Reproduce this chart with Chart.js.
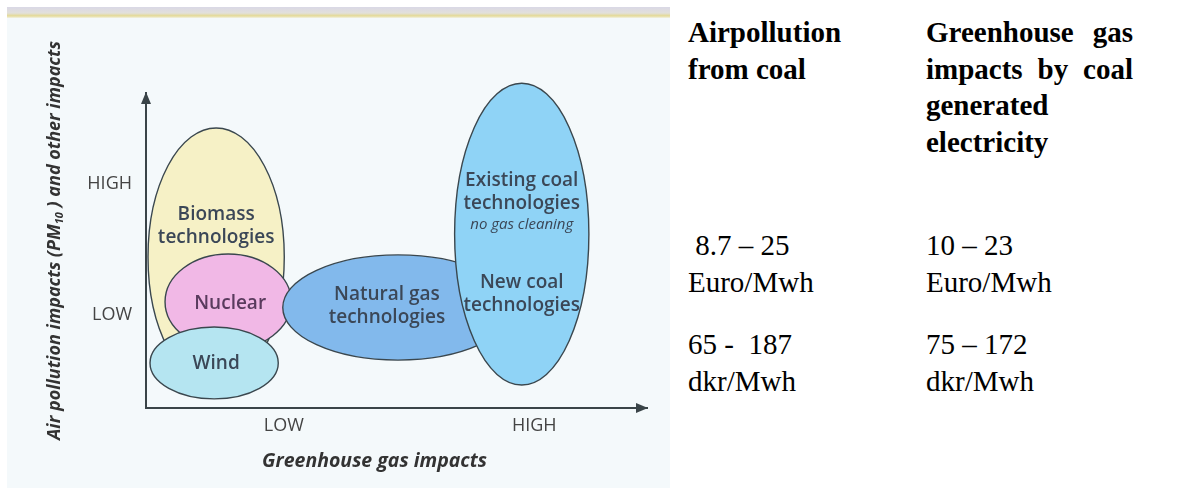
<!DOCTYPE html>
<html>
<head>
<meta charset="utf-8">
<script src="https://cdn.jsdelivr.net/npm/chart.js@4.4.1/dist/chart.umd.min.js"></script>
<style>
  body { margin: 0; background: #fff; width: 1188px; height: 493px; position: relative; overflow: hidden;
         font-family: "Liberation Serif", "Times New Roman", serif; }
  #panel { position: absolute; left: 7px; top: 7px; width: 663px; height: 481px; background: #f4f9fb; }
  #strip { position: absolute; left: 0; top: 0; width: 663px; height: 11px;
           background: linear-gradient(#d9d8e6, #e2e0da 55%, #e4da96 80%, #f2f2e4); }
  #wrap { position: absolute; left: 0; top: 0; width: 663px; height: 480px; }
  .col { position: absolute; font-size: 29px; line-height: 36.5px; color: #000; }
  .head { font-weight: bold; }
</style>
</head>
<body>
<div id="panel">
  <div id="strip"></div>
  <div id="wrap"><canvas id="impactChart"></canvas></div>
</div>

<div class="col head" style="left:688px; top:14px; width:215px;">Airpollution<br>from coal</div>
<div class="col head" style="left:926px; top:14px; width:207px; text-align:justify;">Greenhouse gas impacts by coal generated electricity</div>
<div class="col" style="left:688px; top:227px;">&nbsp;8.7 – 25<br>Euro/Mwh</div>
<div class="col" style="left:926px; top:227px;">10 – 23<br>Euro/Mwh</div>
<div class="col" style="left:688px; top:326px;">65 - &nbsp;187<br>dkr/Mwh</div>
<div class="col" style="left:926px; top:326px;">75 – 172<br>dkr/Mwh</div>

<script>
// technology regions: centre and half-extent on both axes (0-100 scale)
const technologies = ['Biomass', 'Nuclear', 'Wind', 'Natural gas', 'Coal'];
const ghgCentre = [14.0, 16.4, 13.6, 50.3, 75.0];
const airCentre = [47.9, 33.7, 14.3, 31.9, 55.2];
const ghgSpread = [13.6, 12.6, 12.8, 23.0, 13.4];
const airSpread = [41.0, 15.2, 11.4, 16.7, 47.9];
const fillColours = ['#f6f1c6', '#f1b8e6', '#b5e5f1', '#82b9ec', '#8fd3f6'];

// text written inside the regions
const labelLines = [['Biomass', 'technologies'], ['Nuclear'], ['Wind'], ['Natural gas', 'technologies'],
                    ['Existing coal', 'technologies'], ['no gas cleaning'], ['New coal', 'technologies']];
const labelGhg = [14.0, 16.8, 14.0, 48.1, 75.0, 75.0, 75.0];
const labelAir = [57.8, 33.3, 14.0, 32.4, 68.7, 58.1, 36.3];

// axis ticks
const levelNames = ['LOW', 'HIGH'];
const ghgTicks = [27.5, 77.5];
const airTicks = [29.5, 71];

const FONT = '"Open Sans", "DejaVu Sans", sans-serif';

const regionPlugin = {
    id: 'regions',
    beforeDatasetsDraw(chart) {
        const { ctx, scales: { x, y } } = chart;
        const pts = chart.data.datasets[0].data;
        ctx.save();
        pts.forEach((p, i) => {
            const cx = x.getPixelForValue(p.x);
            const cy = y.getPixelForValue(p.y);
            const rx = x.getPixelForValue(p.x + ghgSpread[i]) - cx;
            const ry = cy - y.getPixelForValue(p.y + airSpread[i]);
            ctx.beginPath();
            ctx.ellipse(cx, cy, rx, ry, 0, 0, Math.PI * 2);
            ctx.fillStyle = fillColours[i];
            ctx.fill();
            ctx.lineWidth = 1.4;
            ctx.strokeStyle = '#3a474e';
            ctx.stroke();
        });

        ctx.textAlign = 'center';
        ctx.textBaseline = 'middle';
        labelLines.forEach((lines, i) => {
            const lx = x.getPixelForValue(labelGhg[i]);
            const ly = y.getPixelForValue(labelAir[i]);
            const italic = lines[0] === 'no gas cleaning';
            ctx.font = italic ? 'italic 15px ' + FONT : '600 19px ' + FONT;
            ctx.fillStyle = i === 1 ? '#5a3b5e' : '#3b4757';
            const step = 23;
            lines.forEach((t, k) => {
                ctx.fillText(t, lx, ly + (k - (lines.length - 1) / 2) * step);
            });
        });
        ctx.restore();
    },
    afterDraw(chart) {
        const { ctx, chartArea: { left, top, right, bottom } } = chart;
        ctx.save();
        ctx.fillStyle = '#3a4448';
        // arrow heads
        ctx.beginPath();
        ctx.moveTo(left, top - 1);
        ctx.lineTo(left - 5, top + 11);
        ctx.lineTo(left + 5, top + 11);
        ctx.closePath();
        ctx.fill();
        ctx.beginPath();
        ctx.moveTo(right + 1, bottom);
        ctx.lineTo(right - 11, bottom - 5);
        ctx.lineTo(right - 11, bottom + 5);
        ctx.closePath();
        ctx.fill();

        // axis titles
        ctx.fillStyle = '#333';
        ctx.textBaseline = 'middle';
        ctx.textAlign = 'center';
        ctx.font = 'italic bold 19.5px ' + FONT;
        ctx.fillText('Greenhouse gas impacts', (left + right) / 2 - 22, bottom + 53);

        ctx.translate(left - 91, (top + bottom) / 2 - 10);
        ctx.rotate(-Math.PI / 2);
        const big = 'italic bold 18px ' + FONT;
        const small = 'italic bold 11px ' + FONT;
        const a = 'Air pollution impacts (PM', b = '10', c = ' ) and other impacts';
        ctx.font = big;
        const wa = ctx.measureText(a).width, wc = ctx.measureText(c).width;
        ctx.font = small;
        const wb = ctx.measureText(b).width;
        const sx = -(wa + wb + wc) / 2;
        ctx.textAlign = 'left';
        ctx.font = big;
        ctx.fillText(a, sx, 0);
        ctx.font = small;
        ctx.fillText(b, sx + wa, 5);
        ctx.font = big;
        ctx.fillText(c, sx + wa + wb, 0);
        ctx.restore();
    }
};

new Chart(document.getElementById('impactChart'), {
    type: 'scatter',
    data: {
        datasets: [{
            label: 'Technologies',
            data: technologies.map((t, i) => ({ x: ghgCentre[i], y: airCentre[i] })),
            pointRadius: 0,
            pointHoverRadius: 0
        }]
    },
    options: {
        responsive: true,
        maintainAspectRatio: false,
        animation: false,
        events: [],
        layout: { padding: { left: 0, top: 86, right: 23, bottom: 0 } },
        plugins: { legend: { display: false }, tooltip: { enabled: false } },
        scales: {
            x: {
                type: 'linear', min: 0, max: 100,
                afterBuildTicks: s => { s.ticks = ghgTicks.map(v => ({ value: v })); },
                afterFit: s => { s.height = 79; },
                grid: { drawTicks: false, color: 'rgba(0,0,0,0)' },
                border: { display: true, color: '#3a4448', width: 2 },
                ticks: {
                    padding: 7, maxRotation: 0, autoSkip: false, color: '#444',
                    font: { family: FONT, size: 18 },
                    callback: (v, i) => levelNames[i]
                }
            },
            y: {
                type: 'linear', min: 0, max: 100,
                afterBuildTicks: s => { s.ticks = airTicks.map(v => ({ value: v })); },
                afterFit: s => { s.width = 139; },
                grid: { drawTicks: false, color: 'rgba(0,0,0,0)' },
                border: { display: true, color: '#3a4448', width: 2 },
                ticks: {
                    padding: 14, autoSkip: false, color: '#444',
                    font: { family: FONT, size: 18 },
                    callback: (v, i) => levelNames[i]
                }
            }
        }
    },
    plugins: [regionPlugin]
});
</script>
</body>
</html>
